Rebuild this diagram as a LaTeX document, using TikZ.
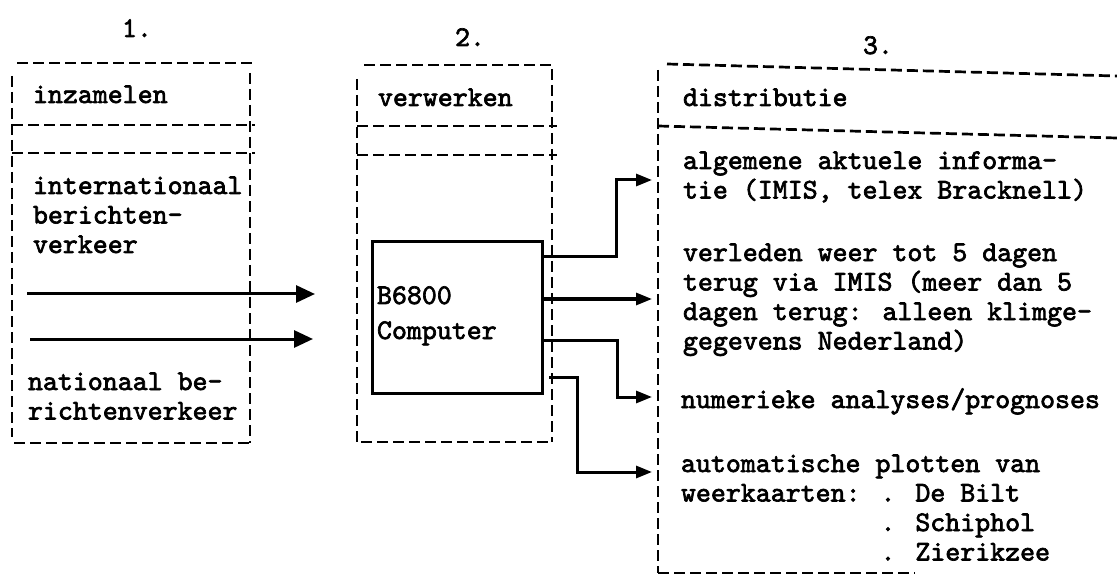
\documentclass[tikz,border=0pt]{standalone}
\usepackage{fontspec}
\usetikzlibrary{arrows.meta,calc}
% typewriter text, emboldened; a multi-line node sits on the baseline of its last line
\newfontfamily\typewriter{lmmono10-regular}[Extension=.otf, FakeBold=2.4]
\newcommand\typeface{\typewriter\fontsize{28.5}{29.5}\selectfont}

\begin{document}
\begin{tikzpicture}[x=1pt,y=-1pt,
  txt/.style={font=\typeface, inner sep=0pt, outer sep=0pt, anchor=base west, align=left},
  heading/.style={font=\typeface, inner sep=0pt, anchor=base},
  frame/.style={line width=2.7pt, dash pattern=on 11pt off 5pt},
  wire/.style={line width=3pt},
  intip/.style={-{Triangle[length=19pt,width=17pt]}},
  outtip/.style={-{Triangle[length=16pt,width=12pt]}},
  area/.style={inner sep=0pt, outer sep=0pt, anchor=north west},
]
\useasboundingbox (0,0) rectangle (1117,588);

% the three columns of the scheme
\node[area, minimum width=238pt, minimum height=380pt] (col1) at (12,63) {};
\node[area, minimum width=195pt, minimum height=377pt] (col2) at (357,65) {};
\node[area, minimum width=459pt, minimum height=509pt] (col3) at (658,64) {};

% headings
\node[heading] (h1) at (137,37) {1.};
\node[heading] (h2) at (470,46) {2.};
\node[heading] (h3) at (878,54) {3.};

% column 1: dashed frame
\draw[frame] ($(col1.north west)+(5,0)$) -- ($(col1.north east)+(7,0)$);
\draw[frame] ($(col1.north west)+(0,13)$) -- ($(col1.south west)+(0,-6)$);
\draw[frame] ($(col1.north east)+(0,10)$) -- (col1.south east);
\draw[frame] ($(col1.south west)+(2,0)$) -- ($(col1.south east)+(2,0)$);
\draw[frame] ($(col1.north west)+(0,62)$) -- ($(col1.north east)+(5,62)$);
\draw[frame] ($(col1.north west)+(0,90)$) -- ($(col1.north east)+(5,90)$);

% column 2: dashed frame
\draw[frame] ($(col2.north west)+(7,0)$) -- (col2.north east) -- (col2.south east);
\draw[frame] ($(col2.north west)+(0,14)$) -- (col2.south west);
\draw[frame] ($(col2.south west)+(4,0)$) -- ($(col2.south east)+(1,0)$);
\draw[frame] ($(col2.north west)+(0,61)$) -- ($(col2.north east)+(5,61)$);
\draw[frame] ($(col2.north west)+(0,90)$) -- ($(col2.north east)+(5,90)$);

% column 3: dashed frame, open on the right
\draw[frame] ($(col3.north west)+(9,0)$) -- ($(col3.north east)+(0,12)$);
\draw[frame] ($(col3.north west)+(0,62)$) -- ($(col3.north east)+(0,74)$);
\draw[frame] ($(col3.north west)+(0,6)$) -- (col3.south west);
\draw[frame] (col3.south west) -- ($(col3.south west)+(257,0)$);

% column texts
\node[txt] (t1a) at (33,103) {inzamelen};
\node[txt] (t1b) at (33,253) {internationaal\\berichten-\\verkeer};
\node[txt] (t1c) at (28,419.5) {nationaal be-\\richtenverkeer};
\node[txt] (t2a) at (378,106) {verwerken};
\node[txt] (d0) at (683,106) {distributie};
\node[txt] (d1) at (683,198.5) {algemene aktuele informa-\\tie (IMIS, telex Bracknell)};
\node[txt] (d2) at (683,349.5) {verleden weer tot 5 dagen\\terug via IMIS (meer dan 5\\dagen terug: alleen klimge-\\gegevens Nederland)};
\node[txt] (d3) at (681,408) {numerieke analyses/prognoses};
\node[txt] (d4) at (681,560.5) {automatische plotten van\\weerkaarten: . De Bilt\\\phantom{weerkaarten: }. Schiphol\\\phantom{weerkaarten: }. Zierikzee};

% the computer
\node[area, draw, wire, minimum width=170pt, minimum height=151pt] (comp) at (372,242) {};
\node[txt] (cb) at (377,304) {B6800};
\node[txt] (cc) at (377,339) {Computer};

% incoming message traffic
\coordinate (a1s) at (27,294);
\coordinate (a1e) at (315,294);
\coordinate (a2s) at (30,339);
\coordinate (a2e) at (313,339);
\draw[wire,intip] (a1s) -- (a1e);
\draw[wire,intip] (a2s) -- (a2e);

% outgoing distribution lines
\coordinate (o1) at ($(comp.north east)+(0,15)$);
\coordinate (o2) at ($(comp.north east)+(0,57)$);
\coordinate (o3) at ($(comp.north east)+(0,98)$);
\coordinate (o4) at ($(comp.north east)+(7,135)$);
\coordinate (p1) at ($(col3.north west)+(-6,116)$);
\coordinate (p2) at ($(col3.north west)+(-6,235)$);
\coordinate (p3) at ($(col3.north west)+(-6,333)$);
\coordinate (p4) at ($(col3.north west)+(-6,408)$);
\draw[wire,outtip] (o1) -| ($(p1)+(-36,0)$) -- (p1);
\draw[wire,outtip] (o2) -- (p2);
\draw[wire,outtip] (o3) -| ($(p3)+(-35,0)$) -- (p3);
\draw[wire,outtip] (o4) -| ($(p4)+(-75,0)$) -- (p4);
\end{tikzpicture}
\end{document}
